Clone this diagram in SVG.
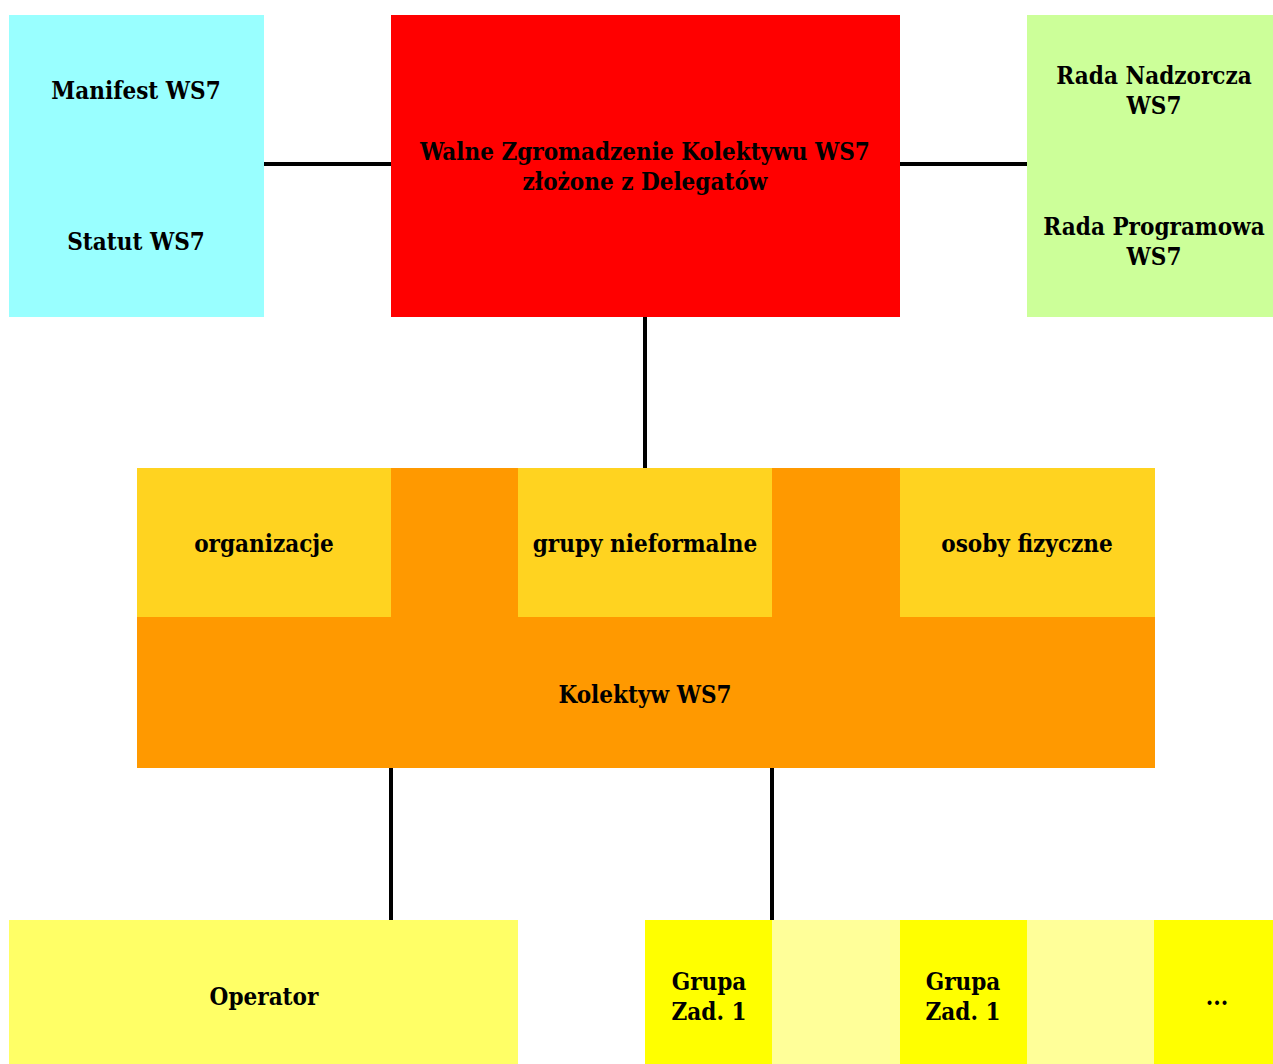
<svg xmlns="http://www.w3.org/2000/svg" width="1273" height="1064" viewBox="0 0 1273 1064">
<style>
text{font-family:"DejaVu Serif Condensed","DejaVu Serif","Liberation Serif",serif;font-weight:bold;font-stretch:condensed;font-size:24px;fill:#000;text-anchor:middle}
.ln{stroke:#000;stroke-width:4;fill:none}
</style>
<rect width="1273" height="1064" fill="#fff"/>
<g id="connectors">
<line class="ln" x1="264" y1="164" x2="391" y2="164"/>
<line class="ln" x1="900" y1="164" x2="1027" y2="164"/>
<line class="ln" x1="645" y1="317" x2="645" y2="468"/>
<line class="ln" x1="391" y1="768" x2="391" y2="920"/>
<line class="ln" x1="772" y1="768" x2="772" y2="920"/>
</g>
<g id="docs">
<rect x="9" y="15" width="255" height="302" fill="#99ffff"/>
<text x="136" y="99">Manifest WS7</text>
<text x="136" y="250">Statut WS7</text>
</g>
<g id="walne">
<rect x="391" y="15" width="509" height="302" fill="#ff0000"/>
<text x="645" y="160">Walne Zgromadzenie Kolektywu WS7</text>
<text x="645" y="190">złożone z Delegatów</text>
</g>
<g id="rady">
<rect x="1027" y="15" width="246" height="302" fill="#ccff99"/>
<text x="1154" y="84">Rada Nadzorcza</text>
<text x="1154" y="114">WS7</text>
<text x="1154" y="235">Rada Programowa</text>
<text x="1154" y="265">WS7</text>
</g>
<g id="kolektyw">
<rect x="137" y="468" width="1018" height="300" fill="#ff9900"/>
<text x="645" y="703">Kolektyw WS7</text>
</g>
<g id="organizacje">
<rect x="137" y="468" width="254" height="149" fill="#ffd320"/>
<text x="264" y="552">organizacje</text>
</g>
<g id="grupy">
<rect x="518" y="468" width="254" height="149" fill="#ffd320"/>
<text x="645" y="552">grupy nieformalne</text>
</g>
<g id="osoby">
<rect x="900" y="468" width="255" height="149" fill="#ffd320"/>
<text x="1027" y="552">osoby fizyczne</text>
</g>
<g id="operator">
<rect x="9" y="920" width="509" height="144" fill="#ffff66"/>
<text x="264" y="1005">Operator</text>
</g>
<g id="grupa1">
<rect x="645" y="920" width="127" height="144" fill="#ffff00"/>
<text x="709" y="990">Grupa</text>
<text x="709" y="1020">Zad. 1</text>
</g>
<rect x="772" y="920" width="128" height="144" fill="#ffff99"/>
<g id="grupa2">
<rect x="900" y="920" width="127" height="144" fill="#ffff00"/>
<text x="963" y="990">Grupa</text>
<text x="963" y="1020">Zad. 1</text>
</g>
<rect x="1027" y="920" width="127" height="144" fill="#ffff99"/>
<g id="more">
<rect x="1154" y="920" width="119" height="144" fill="#ffff00"/>
<text x="1217" y="1005">...</text>
</g>
</svg>
